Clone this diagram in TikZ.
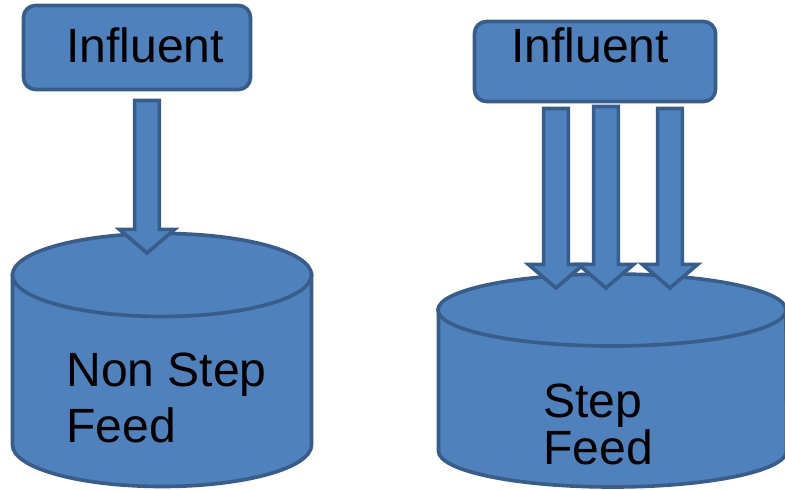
\documentclass[tikz,border=0pt]{standalone}
\usepackage{fontspec}
\setmainfont{Liberation Sans}
\usetikzlibrary{calc}
\definecolor{tankblue}{HTML}{4F81BD}
\definecolor{tankedge}{HTML}{385D8A}

% block arrow from shaft top (#1) down to tip (#2)
\newcommand{\feedarrow}[2]{%
  \draw[flowarrow] let \p1=(#1), \p2=(#2) in
    (\x1-0.31cm,\y1) -- (\x1+0.31cm,\y1) -- (\x1+0.31cm,\y2+0.59cm)
    -- (\x1+0.69cm,\y2+0.59cm) -- (\x2,\y2) -- (\x1-0.69cm,\y2+0.59cm)
    -- (\x1-0.31cm,\y2+0.59cm) -- cycle;}

\begin{document}
\begin{tikzpicture}[
    x=0.025cm, y=-0.025cm,
    every node/.style={font=\fontsize{34.2pt}{40pt}\selectfont, text=black, inner sep=0pt},
    feedbox/.style={draw=tankedge, fill=tankblue, line width=2.6pt, rounded corners=0.3cm},
    tank/.style={draw=tankedge, fill=tankblue, line width=2.6pt},
    flowarrow/.style={draw=tankedge, fill=tankblue, line width=2.6pt, line join=miter},
]
\useasboundingbox (0,0) rectangle (785,490);

% === Non step feed ===
\node[feedbox, minimum width=5.675cm, minimum height=2.1cm] (inL) at (137,47.5) {};
\node[anchor=base west] (inLtxt) at (66,63) {Influent};

\draw[tank] (12.5,275) -- (12.5,445)
    arc[start angle=180, end angle=0, x radius=149.5, y radius=41.5] -- (311.5,275) -- cycle;
\draw[tank] (162,275) ellipse [x radius=149.5, y radius=41.5];
\node[anchor=base west, align=left, font=\fontsize{34.2pt}{40.5pt}\selectfont] (tankL) at (66,443) {Non Step\\Feed};

\coordinate (aL) at (147,100.5);
\coordinate (bL) at (147,253);
\feedarrow{aL}{bL}

% === Step feed ===
\node[feedbox, minimum width=6.025cm, minimum height=2cm] (inR) at (595,61.5) {};
\node[anchor=base west] (inRtxt) at (511,63) {Influent};

\draw[tank] (438.5,310) -- (438.5,451)
    arc[start angle=180, end angle=0, x radius=174, y radius=36] -- (786,310) -- cycle;
\draw[tank] (612,310) ellipse [x radius=174, y radius=36];
\node[anchor=base west, align=left, font=\fontsize{34.2pt}{34.1pt}\selectfont] (tankR) at (543,465) {Step\\Feed};

\coordinate (aR1) at (556,108.5);
\coordinate (bR1) at (556,288);
\coordinate (aR2) at (606,106.5);
\coordinate (bR2) at (606,288);
\coordinate (aR3) at (670,108.5);
\coordinate (bR3) at (670,288);
\feedarrow{aR1}{bR1}
\feedarrow{aR2}{bR2}
\feedarrow{aR3}{bR3}

\end{tikzpicture}
\end{document}
